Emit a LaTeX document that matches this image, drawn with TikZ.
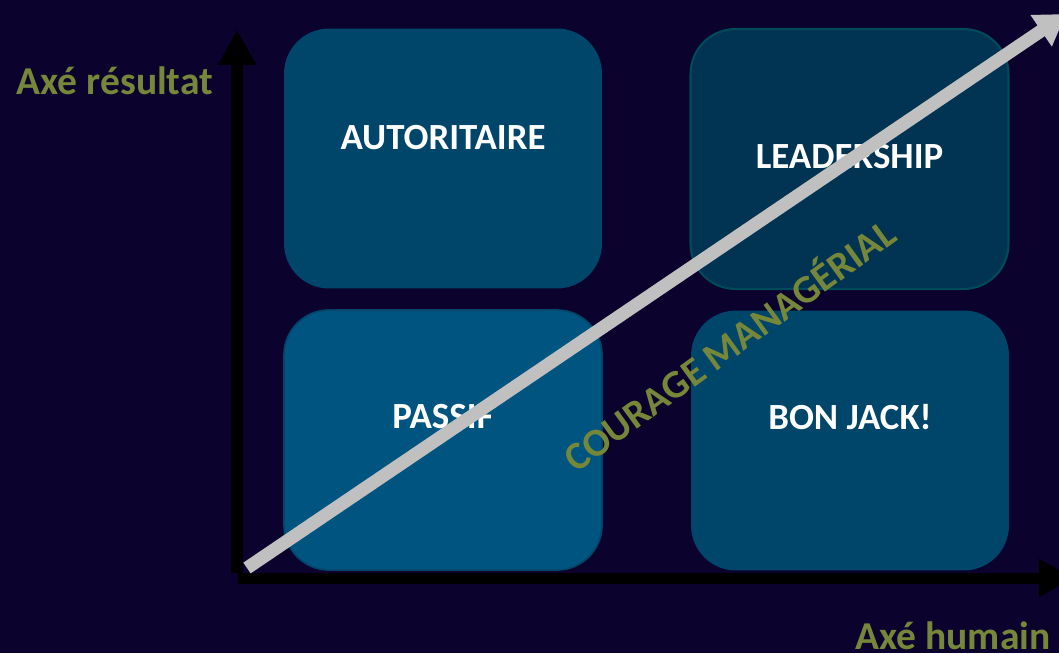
\documentclass[tikz,border=0pt]{standalone}
\usepackage{fontspec}
\setmainfont{Carlito}
\usetikzlibrary{arrows.meta}

\definecolor{nightbg}{RGB}{11,2,45}
\definecolor{boxmid}{RGB}{0,70,106}
\definecolor{boxdark}{RGB}{0,52,82}
\definecolor{boxlight}{RGB}{0,85,128}
\definecolor{olivetxt}{RGB}{119,135,58}
\definecolor{arrowgray}{RGB}{192,192,192}

\tikzset{
    quadbox/.style={rounded corners=0.9cm, minimum width=6.36cm, minimum height=5.2cm, inner sep=0pt},
    quadlabel/.style={anchor=base, text=white, font=\bfseries\fontsize{21}{25}\selectfont},
    axislabel/.style={anchor=base, text=olivetxt, font=\bfseries\fontsize{22.5}{27}\selectfont},
}

\begin{document}
\begin{tikzpicture}[x=0.02cm, y=-0.02cm]
            \fill[nightbg] (0, 0) rectangle (1059, 653);
            \useasboundingbox (0, 0) rectangle (1059, 653);
            \clip (0, 0) rectangle (1059, 653);
            % the four quadrants
            \node[quadbox, fill=boxmid] (aut) at (443, 158.5) {};
            \node[quadbox, fill=boxdark, draw=boxmid!70!cyan!60!black, line width=1.2pt] (lead) at (849.5, 159) {};
            \node[quadbox, fill=boxlight, draw=boxmid, line width=1pt] (pas) at (443, 440) {};
            \node[quadbox, fill=boxmid] (bon) at (850, 440.5) {};
            \node[quadlabel] (autlab) at ([yshift=0.19cm]aut.center) {AUTORITAIRE};
            \node[quadlabel] (leadlab) at ([yshift=-0.18cm]lead.center) {LEADERSHIP};
            \node[quadlabel] (paslab) at ([yshift=0.24cm]pas.center) {PASSIF};
            \node[quadlabel] (bonlab) at ([yshift=0.23cm]bon.center) {BON JACK!};
            % axes
            \coordinate (ybase) at (237, 573);
            \coordinate (ytip) at (237, 30);
            \coordinate (xbase) at (238, 578);
            \coordinate (xtip) at (1074, 578);
            \draw[line width=0.24cm, -{Triangle[length=0.7cm, width=0.72cm]}] (ybase) -- (ytip);
            \draw[line width=0.22cm, -{Triangle[length=0.7cm, width=0.72cm]}] (xbase) -- (xtip);
            \node[axislabel] (reslab) at (115, 94) {Axé résultat};
            \node[axislabel] (humlab) at (953, 649) {Axé humain};
            % diagonal
            \coordinate (dstart) at (247, 568);
            \coordinate (dtip) at (1066, 14);
            \draw[arrowgray, line width=0.26cm, -{Triangle[length=0.6cm, width=0.72cm]}] (dstart) -- (dtip);
            \node[text=olivetxt, font=\bfseries\fontsize{22.5}{27}\selectfont, rotate=36] (courage) at (728, 343) {COURAGE MANAGÉRIAL};
        \end{tikzpicture}
\end{document}
